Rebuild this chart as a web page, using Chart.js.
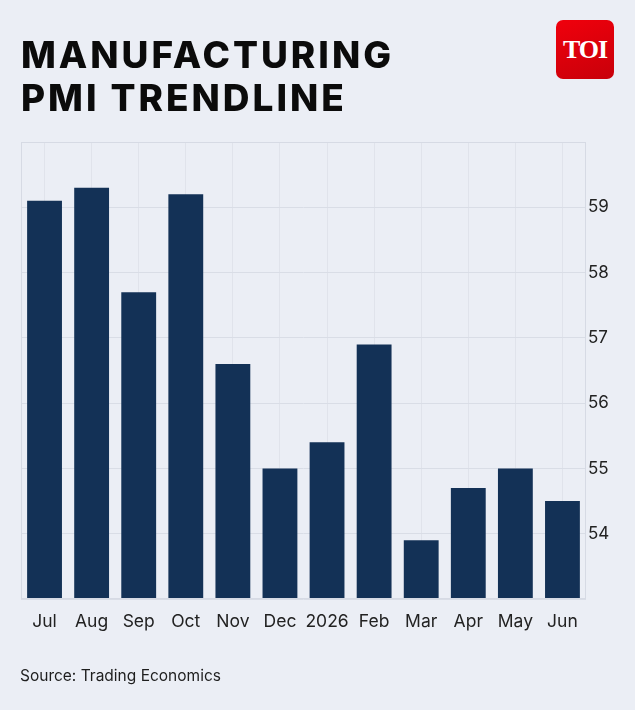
<!DOCTYPE html>
<html>
<head>
<meta charset="utf-8">
<script src="https://cdn.jsdelivr.net/npm/chart.js@4.4.1/dist/chart.umd.min.js"></script>
<style>
  html, body { margin:0; padding:0; background:#EBEEF5; }
  body { width:635px; height:710px; position:relative; overflow:hidden; font-family: Inter, "Open Sans", sans-serif; }
  #title { position:absolute; left:21px; top:33px; font-family: Inter, sans-serif; font-weight:800; font-size:37px; line-height:43px; color:#0b0b0b; white-space:nowrap; }
  #title span { display:block; }
  #logo { position:absolute; left:556px; top:20px; width:58px; height:59px; border-radius:7px; background:linear-gradient(160deg,#f0000c,#c8000a); color:#fff; font-family:"Liberation Serif", serif; font-weight:700; font-size:26px; display:flex; align-items:center; justify-content:center; letter-spacing:-1px; }
  #source { position:absolute; left:20px; top:666px; font-size:15.5px; color:#1e1e1e; font-family: Inter, sans-serif; }
  #wrap { position:absolute; left:0; top:0; width:635px; height:710px; }
</style>
</head>
<body>
<div id="wrap"><canvas id="c" width="635" height="710"></canvas></div>
<div id="title"><span id="t1">MANUFACTURING</span><span id="t2">PMI TRENDLINE</span></div>
<div id="logo">TOI</div>
<div id="source">Source: Trading Economics</div>
<script>
const categories = ["Jul","Aug","Sep","Oct","Nov","Dec","2026","Feb","Mar","Apr","May","Jun"];
const pmiValues = [59.1, 59.3, 57.7, 59.2, 56.6, 55.0, 55.4, 56.9, 53.9, 54.7, 55.0, 54.5];
const yTickValues = [54, 55, 56, 57, 58, 59];

// fit title width to reference
(function(){
  const t1 = document.getElementById('t1');
  const r = document.createRange(); r.selectNodeContents(t1);
  const w = r.getBoundingClientRect().width;
  const target = 373;
  const ls = (target - w) / 13;
  document.getElementById('title').style.letterSpacing = ls + 'px';
})();

const frame = {
  id: 'frame',
  afterDraw(chart) {
    const a = chart.chartArea, ctx = chart.ctx;
    ctx.save();
    ctx.strokeStyle = '#d6dae4';
    ctx.lineWidth = 1;
    ctx.strokeRect(a.left + 0.5, a.top + 0.5, a.right - a.left - 1, a.bottom - a.top - 1);
    ctx.restore();
  }
};

new Chart(document.getElementById('c'), {
  type: 'bar',
  data: {
    labels: categories,
    datasets: [{
      data: pmiValues,
      backgroundColor: '#133156',
      borderWidth: 0,
      barPercentage: 0.74,
      categoryPercentage: 1.0,
      base: 53
    }]
  },
  options: {
    responsive: false,
    animation: false,
    devicePixelRatio: 1,
    layout: { padding: { left: 21, top: 142, right: 0, bottom: 0 } },
    plugins: { legend: { display: false }, tooltip: { enabled: false } },
    scales: {
      x: {
        grid: { offset: false, color: '#e0e3eb', drawTicks: false },
        border: { display: false },
        ticks: { color: '#222', font: { family: 'Inter', size: 17.5 }, padding: 12, maxRotation: 0, autoSkip: false },
        afterFit(s) { s.height = 111; }
      },
      y: {
        position: 'right',
        min: 53, max: 60,
        afterBuildTicks(s) { s.ticks = [53, ...yTickValues, 60].map(v => ({ value: v })); },
        grid: { color: '#d9dde6', drawTicks: false },
        border: { display: false },
        ticks: {
          color: '#222', font: { family: 'Inter', size: 17 }, padding: 2,
          callback: v => yTickValues.includes(v) ? String(v) : ''
        },
        afterFit(s) { s.width = 49; }
      }
    }
  },
  plugins: [frame]
});
</script>
</body>
</html>
